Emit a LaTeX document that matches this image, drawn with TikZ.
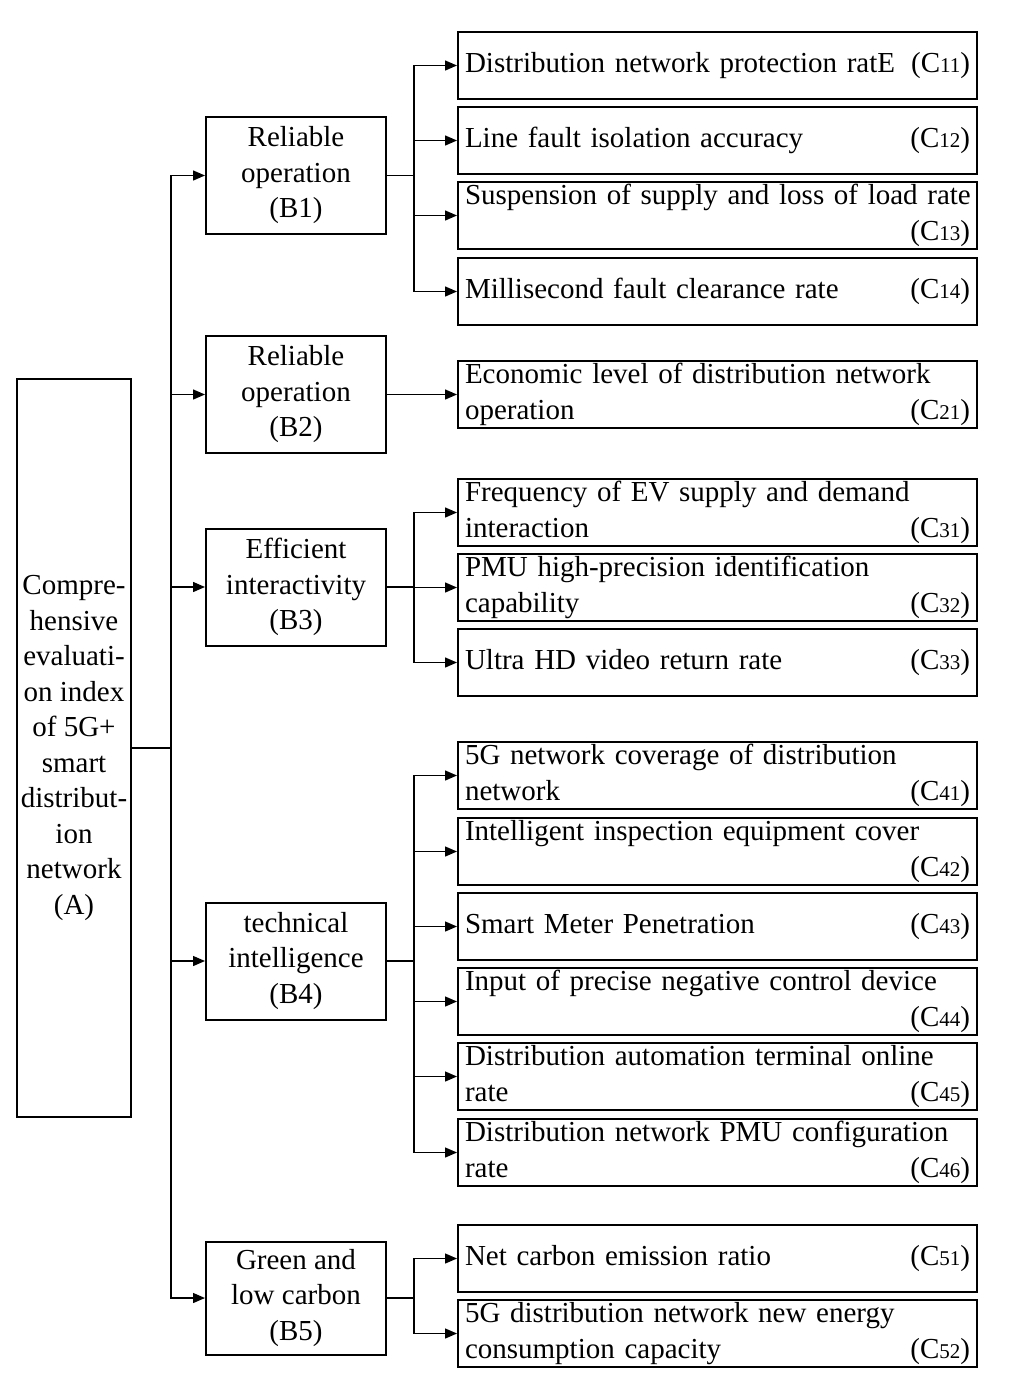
\documentclass[tikz,border=0pt]{standalone}
\usepackage{fontspec}
\setmainfont{Liberation Serif}
\usetikzlibrary{arrows.meta}
\newcommand\cid[1]{(C{\fontsize{21}{21}\selectfont #1})}
\begin{document}
\begin{tikzpicture}[x=1pt,y=-1pt,
 box/.style={draw, line width=2pt, inner sep=0pt, font=\fontsize{29}{35.5}\selectfont},
 abox/.style={box, minimum width=114, minimum height=738, align=center},
 bbox/.style={box, minimum width=180, minimum height=117, align=center},
 cbox/.style={box, minimum width=519, minimum height=67, text width=505, align=left},
 link/.style={line width=1.4pt, -{Triangle[length=12pt,width=10pt]}}]
\useasboundingbox (0,0) rectangle (1014,1395);

\node[abox] (a) at (74,748) {Compre-\\hensive\\evaluati-\\on index\\of 5G+\\smart\\distribut-\\ion\\network\\(A)};

\node[bbox] (b1) at (296,175.5) {Reliable\\operation\\(B1)};
\node[bbox] (b2) at (296,394.5) {Reliable\\operation\\(B2)};
\node[bbox] (b3) at (296,587) {Efficient\\interactivity\\(B3)};
\node[bbox] (b4) at (296,961) {technical\\intelligence\\(B4)};
\node[bbox, minimum height=113] (b5) at (296,1298) {Green and\\low carbon\\(B5)};

\node[cbox] (c11) at (717.5,65.5) {\mbox{Distribution network protection ratE}\hfill\cid{11}};
\node[cbox] (c12) at (717.5,140.5) {\mbox{Line fault isolation accuracy}\hfill\cid{12}};
\node[cbox] (c13) at (717.5,215.5) {\mbox{Suspension of supply and loss of load rate}\\\mbox{}\hfill\cid{13}};
\node[cbox] (c14) at (717.5,291.5) {\mbox{Millisecond fault clearance rate}\hfill\cid{14}};
\node[cbox] (c21) at (717.5,394.5) {\mbox{Economic level of distribution network}\\operation\hfill\cid{21}};
\node[cbox] (c31) at (717.5,512.5) {\mbox{Frequency of EV supply and demand}\\interaction\hfill\cid{31}};
\node[cbox] (c32) at (717.5,587.5) {\mbox{PMU high-precision identification}\\capability\hfill\cid{32}};
\node[cbox] (c33) at (717.5,662.5) {\mbox{Ultra HD video return rate}\hfill\cid{33}};
\node[cbox] (c41) at (717.5,775.5) {\mbox{5G network coverage of distribution}\\network\hfill\cid{41}};
\node[cbox] (c42) at (717.5,851.5) {\mbox{Intelligent inspection equipment cover}\\\mbox{}\hfill\cid{42}};
\node[cbox] (c43) at (717.5,926.5) {\mbox{Smart Meter Penetration}\hfill\cid{43}};
\node[cbox] (c44) at (717.5,1001.5) {\mbox{Input of precise negative control device}\\\mbox{}\hfill\cid{44}};
\node[cbox] (c45) at (717.5,1076.5) {\mbox{Distribution automation terminal online}\\rate\hfill\cid{45}};
\node[cbox] (c46) at (717.5,1152.5) {\mbox{Distribution network PMU configuration}\\rate\hfill\cid{46}};
\node[cbox] (c51) at (717.5,1258.5) {\mbox{Net carbon emission ratio}\hfill\cid{51}};
\node[cbox] (c52) at (717.5,1333.5) {\mbox{5G distribution network new energy}\\consumption capacity\hfill\cid{52}};

\foreach \b in {b1,b2,b3,b4,b5}
  \draw[link] (a.east) -- ++(39,0) |- (\b.west);

\foreach \c in {c11,c12,c13,c14}
  \draw[link] (b1.east) -- ++(27,0) |- (\c.west);
\draw[link] (b2.east) -- (c21.west);
\foreach \c in {c31,c32,c33}
  \draw[link] (b3.east) -- ++(27,0) |- (\c.west);
\foreach \c in {c41,c42,c43,c44,c45,c46}
  \draw[link] (b4.east) -- ++(27,0) |- (\c.west);
\foreach \c in {c51,c52}
  \draw[link] (b5.east) -- ++(27,0) |- (\c.west);
\end{tikzpicture}
\end{document}
